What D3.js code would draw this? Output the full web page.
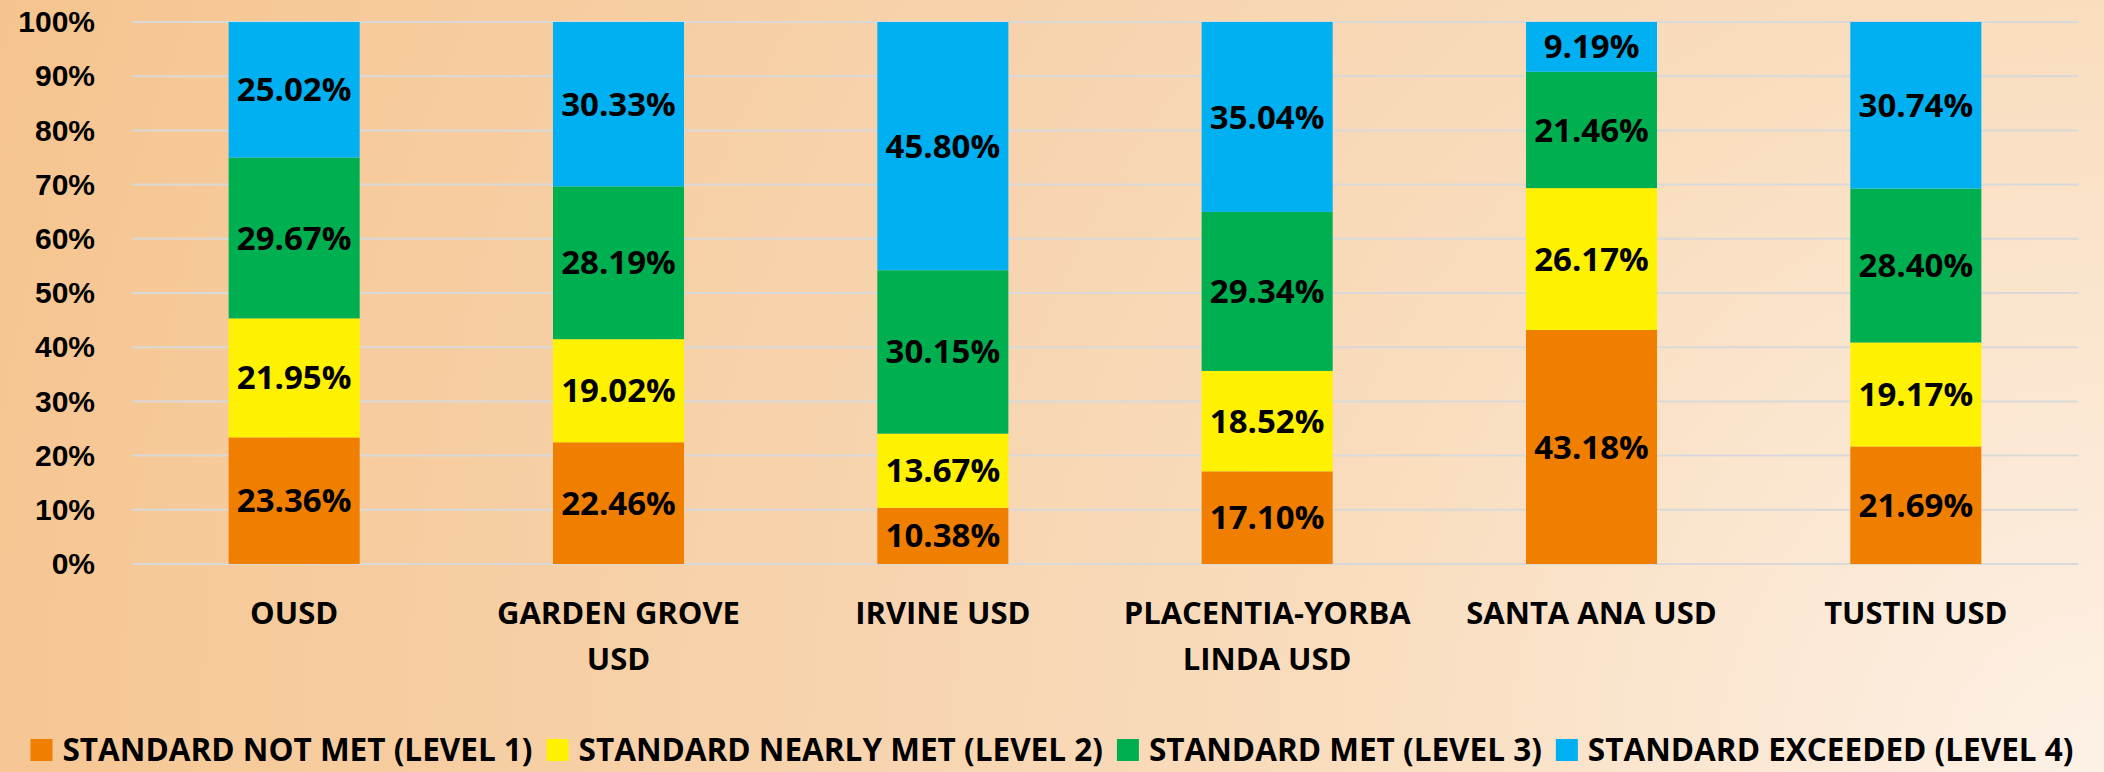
<!DOCTYPE html>
<html>
<head>
<meta charset="utf-8">
<script src="https://cdn.jsdelivr.net/npm/d3@7"></script>
<style>
  html, body { margin: 0; padding: 0; }
  svg { display: block; font-family: "Open Sans", "Liberation Sans", sans-serif; font-weight: bold; }
</style>
</head>
<body>
<div id="chart"></div>
<script>
const width = 2104,
    height = 772,
    margin = {top: 22, right: 26, bottom: 208, left: 132};

// data
const districts = ["OUSD", "GARDEN GROVE USD", "IRVINE USD", "PLACENTIA-YORBA LINDA USD", "SANTA ANA USD", "TUSTIN USD"];
const levels = ["STANDARD NOT MET (LEVEL 1)", "STANDARD NEARLY MET (LEVEL 2)", "STANDARD MET (LEVEL 3)", "STANDARD EXCEEDED (LEVEL 4)"];
const level1 = [23.36, 22.46, 10.38, 17.10, 43.18, 21.69];
const level2 = [21.95, 19.02, 13.67, 18.52, 26.17, 19.17];
const level3 = [29.67, 28.19, 30.15, 29.34, 21.46, 28.40];
const level4 = [25.02, 30.33, 45.80, 35.04, 9.19, 30.74];
const yTicks = [0, 10, 20, 30, 40, 50, 60, 70, 80, 90, 100];
const colors = ["#F07F00", "#FFF200", "#00AF50", "#00B0F0"];

const series = [level1, level2, level3, level4];
const rows = districts.map((d, i) => {
  const r = {district: d};
  levels.forEach((k, j) => { r[k] = series[j][i]; });
  return r;
});

const svg = d3.select("#chart")
    .append("svg")
    .attr("width", width)
    .attr("height", height);

// background: radial gradient from the bottom-right corner
const grad = svg.append("defs").append("radialGradient")
    .attr("id", "bg")
    .attr("gradientUnits", "userSpaceOnUse")
    .attr("cx", width).attr("cy", height).attr("r", 2245);
[[0, "#FDF1E6"], [0.34, "#F9DDBE"], [0.58, "#F7D3AD"], [0.9, "#F6C896"], [1, "#F5C48E"]].forEach(s => {
  grad.append("stop").attr("offset", s[0]).attr("stop-color", s[1]);
});
svg.append("rect")
    .attr("width", width)
    .attr("height", height)
    .attr("fill", "url(#bg)");

const innerW = width - margin.left - margin.right,
    innerH = height - margin.top - margin.bottom;

const x = d3.scaleBand().domain(districts).range([0, innerW]).paddingInner(0.596).paddingOuter(0.298);
const y = d3.scaleLinear().domain([0, 100]).range([innerH, 0]);

const g = svg.append("g")
    .attr("transform", "translate(" + margin.left + "," + margin.top + ")");

// gridlines
g.append("g")
    .selectAll("line")
    .data(yTicks)
    .enter().append("line")
      .attr("x1", 0)
      .attr("x2", innerW)
      .attr("y1", d => y(d))
      .attr("y2", d => y(d))
      .attr("stroke", "#D9D9D9")
      .attr("stroke-width", 2);

// y axis labels
const yAxis = g.append("g")
    .call(d3.axisLeft(y).tickValues(yTicks).tickFormat(d => d + "%").tickSize(0).tickPadding(37));
yAxis.select(".domain").remove();
yAxis.selectAll("text")
    .style("font-size", "30px")
    .style("font-family", "inherit")
    .attr("fill", "#000");

const stacked = d3.stack().keys(levels)(rows);

const layer = g.selectAll(".layer")
    .data(stacked)
    .enter().append("g")
      .attr("class", "layer")
      .attr("fill", (d, i) => colors[i]);

layer.selectAll("rect")
    .data(d => d)
    .enter().append("rect")
      .attr("x", d => x(d.data.district))
      .attr("width", x.bandwidth())
      .attr("y", d => y(d[1]))
      .attr("height", d => y(d[0]) - y(d[1]));

layer.selectAll("text")
    .data(d => d.map(v => ({v: v, key: d.key})))
    .enter().append("text")
      .attr("x", d => x(d.v.data.district) + x.bandwidth() / 2)
      .attr("y", d => y((d.v[0] + d.v[1]) / 2))
      .attr("dy", "0.35em")
      .attr("text-anchor", "middle")
      .attr("fill", "#000")
      .style("font-size", "33px")
      .text(d => d.v.data[d.key].toFixed(2) + "%");

// category labels, wrapped to the band
const xl = g.append("g")
    .attr("transform", "translate(0," + innerH + ")")
    .selectAll("text")
    .data(districts)
    .enter().append("text")
      .attr("x", d => x(d) + x.bandwidth() / 2)
      .attr("y", 49)
      .attr("dy", "0.35em")
      .attr("text-anchor", "middle")
      .style("font-size", "31px")
      .text(d => d);

xl.each(function(d) {
  const t = d3.select(this);
  const words = d.split(" ");
  let line = [];
  t.text(null);
  let tspan = t.append("tspan").attr("x", t.attr("x"));
  words.forEach(w => {
    line.push(w);
    tspan.text(line.join(" "));
    if (tspan.node().getComputedTextLength() > x.step() * 0.93 && line.length > 1) {
      line.pop();
      tspan.text(line.join(" "));
      line = [w];
      tspan = t.append("tspan").attr("x", t.attr("x")).attr("dy", 46).text(w);
    }
  });
});

// legend
const legend = svg.append("g");
const items = legend.selectAll("g")
    .data(levels)
    .enter().append("g");
items.append("rect")
    .attr("width", 22)
    .attr("height", 22)
    .attr("y", 739)
    .attr("fill", (d, i) => colors[i]);
items.append("text")
    .attr("x", 32)
    .attr("y", 750)
    .attr("dy", "0.35em")
    .style("font-size", "31.5px")
    .text(d => d);

let pos = 0;
const offs = [];
items.each(function() {
  offs.push(pos);
  pos += d3.select(this).select("text").node().getComputedTextLength() + 32 + 14;
});
const start = (width - (pos - 14)) / 2;
items.attr("transform", (d, i) => "translate(" + (start + offs[i]) + ",0)");
</script>
</body>
</html>
